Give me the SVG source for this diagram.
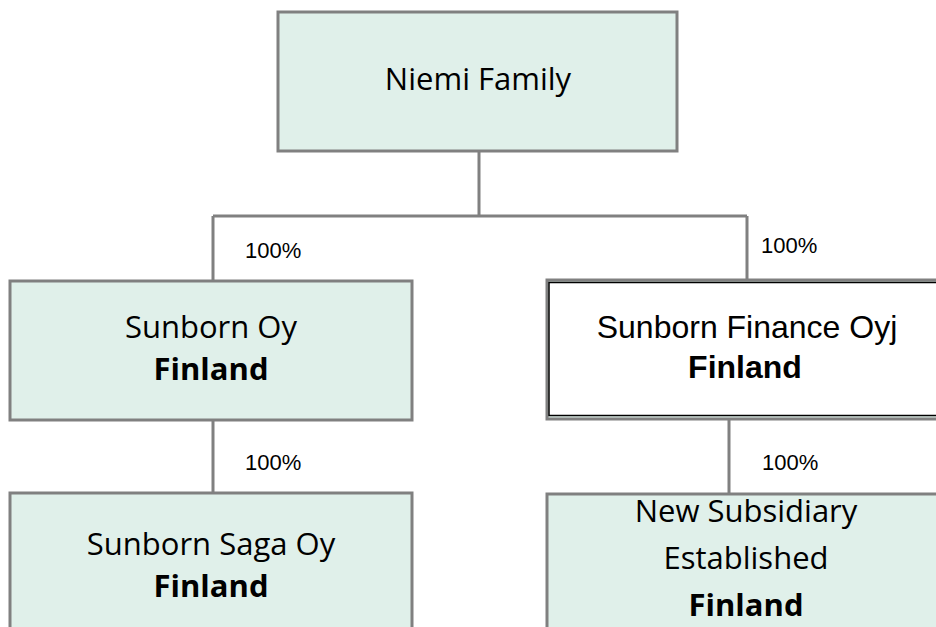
<svg xmlns="http://www.w3.org/2000/svg" width="936" height="627" viewBox="0 0 936 627">
<style>
.box{fill:#e0f0ea;stroke:#808080;stroke-width:3}
.line{fill:none;stroke:#808080;stroke-width:3}
.cal{font-family:"Open Sans","Noto Sans",sans-serif;font-size:31px;fill:#000;text-anchor:middle}
.ari{font-family:"Liberation Sans",Arial,sans-serif;font-size:32px;fill:#000;text-anchor:middle}
.b{font-weight:bold}
.pct{font-family:"Liberation Sans",Arial,sans-serif;font-size:22px;fill:#000}
</style>
<rect width="936" height="627" fill="#fff"/>
<g id="connectors">
<path class="line" d="M479,151 V216 M213,216 H747 M213,216 V280 M747,216 V280 M213,420 V493 M729,419 V493"/>
<text class="pct" x="245" y="258">100%</text>
<text class="pct" x="761" y="253">100%</text>
<text class="pct" x="245" y="470">100%</text>
<text class="pct" x="762" y="470">100%</text>
</g>
<g id="niemi">
<rect class="box" x="278" y="12" width="399" height="139"/>
<text class="cal" x="478" y="90">Niemi Family</text>
</g>
<g id="sunborn-oy">
<rect class="box" x="10" y="281" width="402" height="139"/>
<text class="cal" x="211" y="338">Sunborn Oy</text>
<text class="cal b" x="211" y="380">Finland</text>
</g>
<g id="sunborn-finance">
<rect class="box" x="547" y="280" width="400" height="139"/>
<rect x="549" y="282.5" width="400" height="133" fill="#fff" stroke="#000" stroke-width="1.5"/>
<text class="ari" x="747" y="338">Sunborn Finance Oyj</text>
<text class="ari b" x="745" y="378">Finland</text>
</g>
<g id="sunborn-saga">
<rect class="box" x="10" y="493" width="402" height="150"/>
<text class="cal" x="211" y="555">Sunborn Saga Oy</text>
<text class="cal b" x="211" y="597">Finland</text>
</g>
<g id="new-subsidiary">
<rect class="box" x="547" y="494" width="400" height="150"/>
<text class="cal" x="746" y="522">New Subsidiary</text>
<text class="cal" x="746" y="569">Established</text>
<text class="cal b" x="746" y="616">Finland</text>
</g>
</svg>
